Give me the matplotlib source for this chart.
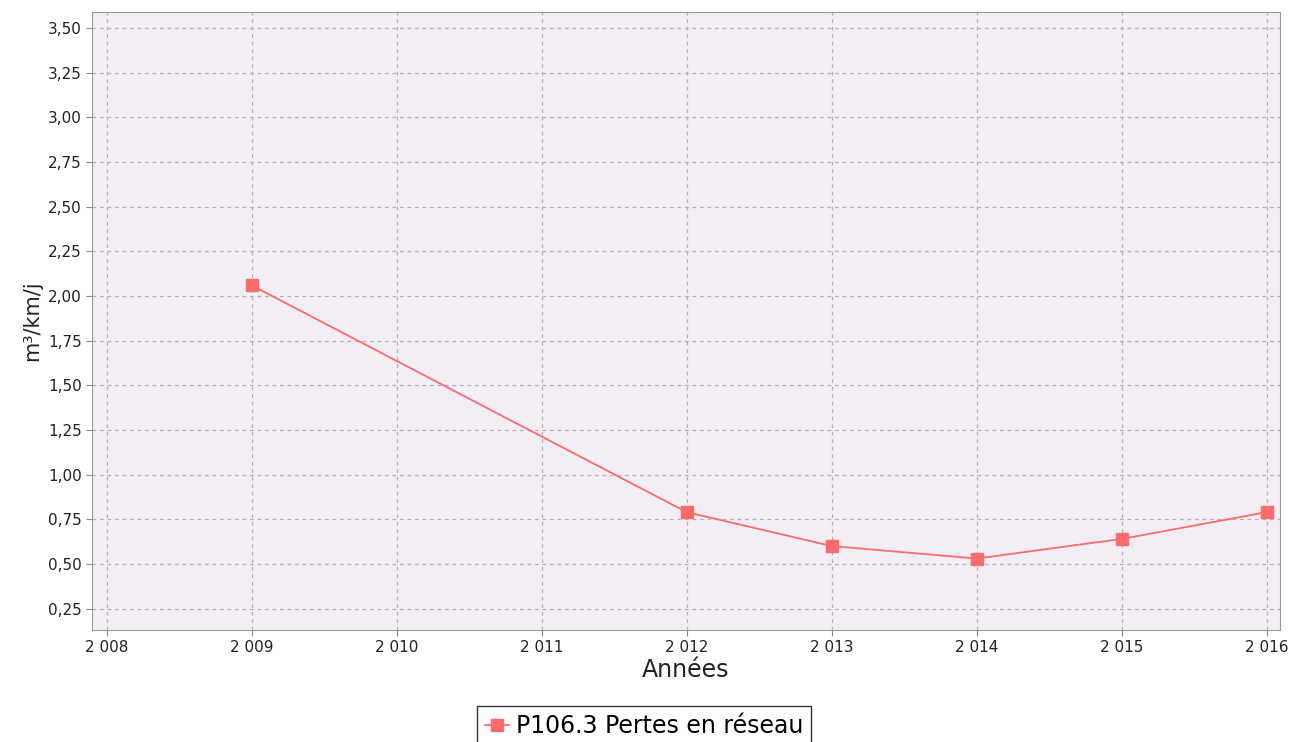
import matplotlib.pyplot as plt
from matplotlib.ticker import FuncFormatter

years = [2009, 2012, 2013, 2014, 2015, 2016]
pertes = [2.06, 0.79, 0.60, 0.53, 0.64, 0.79]
x_ticks = list(range(2008, 2017))
y_ticks = [0.25, 0.50, 0.75, 1.00, 1.25, 1.50, 1.75, 2.00, 2.25, 2.50, 2.75, 3.00, 3.25, 3.50]

fig = plt.figure(figsize=(12.95, 7.42), dpi=100)
ax = fig.add_axes([92 / 1295, 1 - 630 / 742, (1280 - 92) / 1295, (630 - 12) / 742])
ax.set_facecolor('#F3EEF5')

ax.plot(years, pertes, color='#FF6B6B', linewidth=1.3, marker='s', markersize=9,
        label='P106.3 Pertes en réseau')

ax.set_xlim(2007.9, 2016.09)
ax.set_ylim(0.13, 3.59)
ax.set_xticks(x_ticks)
ax.set_yticks(y_ticks)
ax.xaxis.set_major_formatter(FuncFormatter(lambda v, p: '{:,}'.format(int(v)).replace(',', ' ')))
ax.yaxis.set_major_formatter(FuncFormatter(lambda v, p: '{:.2f}'.format(v).replace('.', ',')))
ax.tick_params(labelsize=11, length=4, color='#888888', labelcolor='#222222')
ax.grid(True, color='#B8B0B8', linestyle=(0, (3, 3)), linewidth=0.9)
for s in ax.spines.values():
    s.set_color('#9A9A9A')

ax.set_xlabel('Années', fontsize=17, labelpad=2, color='#222222')
ax.set_ylabel('m³/km/j', fontsize=15, labelpad=4, color='#222222')

fig.legend(loc='upper center', bbox_to_anchor=(644 / 1295, 1 - 706 / 742), fontsize=17,
           frameon=True, fancybox=False, edgecolor='black', handlelength=1.0,
           handletextpad=0.3, borderpad=0.35, borderaxespad=0, markerscale=0.9)

plt.savefig('out.png', dpi=100)
